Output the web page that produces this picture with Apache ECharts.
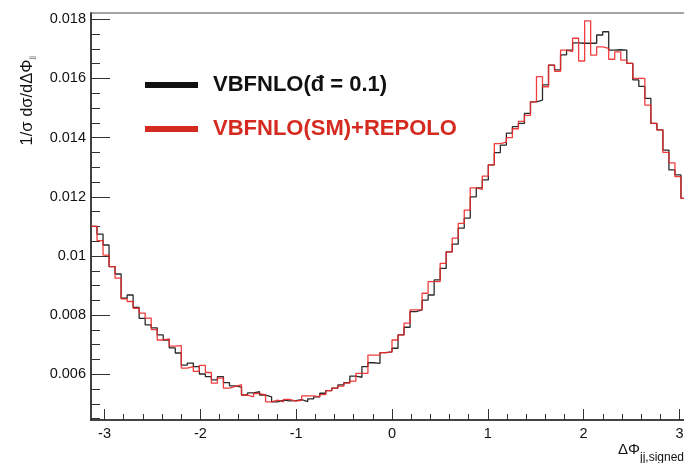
<!DOCTYPE html>
<html>
<head>
<meta charset="utf-8">
<script src="https://cdn.jsdelivr.net/npm/echarts@6/dist/echarts.min.js"></script>
<style>
html,body{margin:0;padding:0;background:#fff;}
#chart{width:684px;height:463px;}
</style>
</head>
<body>
<div id="chart"></div>
<script>
// ---- data ----
const XMIN = -Math.PI;
const XMAX = Math.PI;
const NBINS = 100;
const seriesNames = ['VBFNLO(đ = 0.1)', 'VBFNLO(SM)+REPOLO'];
const blackValues = [
  0.01100,0.01074,0.01037,0.00964,0.00939,0.00857,0.00868,0.00826,0.00789,0.00767,
  0.00757,0.00733,0.00716,0.00689,0.00672,0.00631,0.00638,0.00626,0.00601,0.00592,
  0.00581,0.00592,0.00572,0.00561,0.00557,0.00530,0.00537,0.00541,0.00530,0.00524,
  0.00507,0.00513,0.00510,0.00511,0.00514,0.00508,0.00517,0.00524,0.00536,0.00545,
  0.00553,0.00564,0.00572,0.00594,0.00590,0.00626,0.00639,0.00637,0.00673,0.00676,
  0.00688,0.00733,0.00759,0.00812,0.00818,0.00851,0.00868,0.00919,0.00958,0.01014,
  0.01040,0.01094,0.01128,0.01200,0.01230,0.01257,0.01308,0.01349,0.01375,0.01415,
  0.01437,0.01448,0.01482,0.01521,0.01527,0.01578,0.01645,0.01629,0.01680,0.01696,
  0.01720,0.01719,0.01719,0.01719,0.01747,0.01758,0.01696,0.01697,0.01696,0.01651,
  0.01595,0.01573,0.01533,0.01448,0.01426,0.01358,0.01291,0.01274,0.01195,0.01150
];
const redValues = [
  0.01100,0.01052,0.01003,0.00964,0.00925,0.00855,0.00846,0.00823,0.00807,0.00790,
  0.00751,0.00716,0.00720,0.00695,0.00697,0.00621,0.00626,0.00610,0.00630,0.00606,
  0.00570,0.00587,0.00553,0.00559,0.00565,0.00530,0.00524,0.00535,0.00530,0.00507,
  0.00513,0.00507,0.00515,0.00509,0.00512,0.00527,0.00527,0.00524,0.00531,0.00545,
  0.00553,0.00560,0.00570,0.00577,0.00603,0.00603,0.00665,0.00665,0.00673,0.00676,
  0.00716,0.00733,0.00773,0.00818,0.00818,0.00874,0.00913,0.00913,0.00975,0.01014,
  0.01060,0.01110,0.01155,0.01230,0.01225,0.01270,0.01308,0.01380,0.01385,0.01400,
  0.01430,0.01455,0.01475,0.01521,0.01606,0.01572,0.01645,0.01624,0.01696,0.01691,
  0.01736,0.01659,0.01795,0.01679,0.01707,0.01702,0.01665,0.01690,0.01662,0.01651,
  0.01600,0.01600,0.01510,0.01448,0.01426,0.01350,0.01315,0.01268,0.01195,0.01150
];
const xMajorTicks = [-3,-2,-1,0,1,2,3];
const xMinorTicks = [-2.8,-2.6,-2.4,-2.2,-1.8,-1.6,-1.4,-1.2,-0.8,-0.6,-0.4,-0.2,
  0.2,0.4,0.6,0.8,1.2,1.4,1.6,1.8,2.2,2.4,2.6,2.8];
const yMajorTicks = [0.006,0.008,0.010,0.012,0.014,0.016,0.018];
const yMinorTicks = [0.0045,0.005,0.0055,0.0065,0.007,0.0075,0.0085,0.009,0.0095,
  0.0105,0.011,0.0115,0.0125,0.013,0.0135,0.0145,0.015,0.0155,0.0165,0.017,0.0175];
const Y_MIN = 0.004455;
const Y_MAX = 0.018213;

// histogram step points from bin edges
function histPoints(vals){
  const w = (XMAX - XMIN) / NBINS;
  const pts = vals.map((v, i) => [XMIN + i * w, v]);
  pts.push([XMAX, vals[vals.length - 1]]);
  return pts;
}

const FONT = "'Liberation Sans', Arial, Helvetica, sans-serif";
const chart = echarts.init(document.getElementById('chart'), null, {renderer:'canvas'});
const fmtY = v => String(+(+v).toFixed(4));

chart.setOption({
  animation: false,
  backgroundColor: '#fff',
  grid: {left: 91, top: 13, width: 602, height: 407, containLabel: false, outerBoundsMode: 'none',
         show: true, borderColor: '#888', borderWidth: 1.5, backgroundColor: 'transparent'},
  legend: {
    orient: 'vertical', left: 140, top: 68, itemGap: 20,
    icon: 'rect', itemWidth: 53, itemHeight: 6,
    textStyle: {fontFamily: FONT, fontSize: 22, fontWeight: 'bold', lineHeight: 24, padding: [0,0,0,10]},
    data: [
      {name: seriesNames[0], itemStyle: {color: '#111'}, textStyle: {color: '#111'}},
      {name: seriesNames[1], itemStyle: {color: '#d42a20'}, textStyle: {color: '#d42a20'}}
    ]
  },
  xAxis: [
    {type: 'value', min: XMIN, max: XMAX, position: 'bottom',
     axisLine: {show: true, onZero: false, lineStyle: {color: '#222', width: 1.5}},
     axisTick: {show: true, inside: true, length: 11, customValues: xMajorTicks, lineStyle: {color: '#333', width: 1}},
     axisLabel: {show: true, customValues: xMajorTicks, margin: 6, color: '#111', fontFamily: FONT, fontSize: 14.5, hideOverlap: false},
     splitLine: {show: false}},
    {type: 'value', min: XMIN, max: XMAX, position: 'bottom',
     axisLine: {show: false, onZero: false},
     axisTick: {show: true, inside: true, length: 6, customValues: xMinorTicks, lineStyle: {color: '#333', width: 1}},
     axisLabel: {show: false}, splitLine: {show: false}}
  ],
  yAxis: [
    {type: 'value', min: Y_MIN, max: Y_MAX, position: 'left',
     axisLine: {show: true, onZero: false, lineStyle: {color: '#222', width: 1.5}},
     axisTick: {show: true, inside: true, length: 19, customValues: yMajorTicks, lineStyle: {color: '#333', width: 1}},
     axisLabel: {show: true, customValues: yMajorTicks, formatter: fmtY, margin: 5, color: '#111', fontFamily: FONT, fontSize: 14.5},
     splitLine: {show: false}},
    {type: 'value', min: Y_MIN, max: Y_MAX, position: 'left',
     axisLine: {show: false, onZero: false},
     axisTick: {show: true, inside: true, length: 9, customValues: yMinorTicks, lineStyle: {color: '#333', width: 1}},
     axisLabel: {show: false}, splitLine: {show: false}}
  ],
  series: [
    {name: seriesNames[0], type: 'line', step: 'end', xAxisIndex: 0, yAxisIndex: 0,
     data: histPoints(blackValues), showSymbol: false, symbol: 'none',
     color: '#111', lineStyle: {color: '#2a2a2a', width: 1.3}, z: 2},
    {name: seriesNames[1], type: 'line', step: 'end', xAxisIndex: 0, yAxisIndex: 0,
     data: histPoints(redValues), showSymbol: false, symbol: 'none',
     color: '#d42a20', lineStyle: {color: '#f02828', width: 1.3, opacity: 0.9}, z: 3}
  ],
  graphic: [
    {type: 'text', x: 27, y: 56, rotation: Math.PI / 2,
     style: {text: '{m|1/σ dσ/dΔΦ}{s|jj}', align: 'right', verticalAlign: 'middle', fill: '#111',
       rich: {m: {fontFamily: FONT, fontSize: 16.5, lineHeight: 17, verticalAlign: 'top', padding: [0,0,5,0], fill: '#111'},
              s: {fontFamily: FONT, fontSize: 8, lineHeight: 8, verticalAlign: 'bottom', fill: '#777'}}}},
    {type: 'text', x: 618, y: 442,
     style: {text: '{m|ΔΦ}{s|jj,signed}', align: 'left', verticalAlign: 'top', fill: '#111',
       rich: {m: {fontFamily: FONT, fontSize: 15, lineHeight: 15, verticalAlign: 'top', fill: '#111'},
              s: {fontFamily: FONT, fontSize: 12, lineHeight: 12, verticalAlign: 'top', padding: [10,0,0,0], fill: '#111'}}}}
  ]
});
</script>
</body>
</html>
